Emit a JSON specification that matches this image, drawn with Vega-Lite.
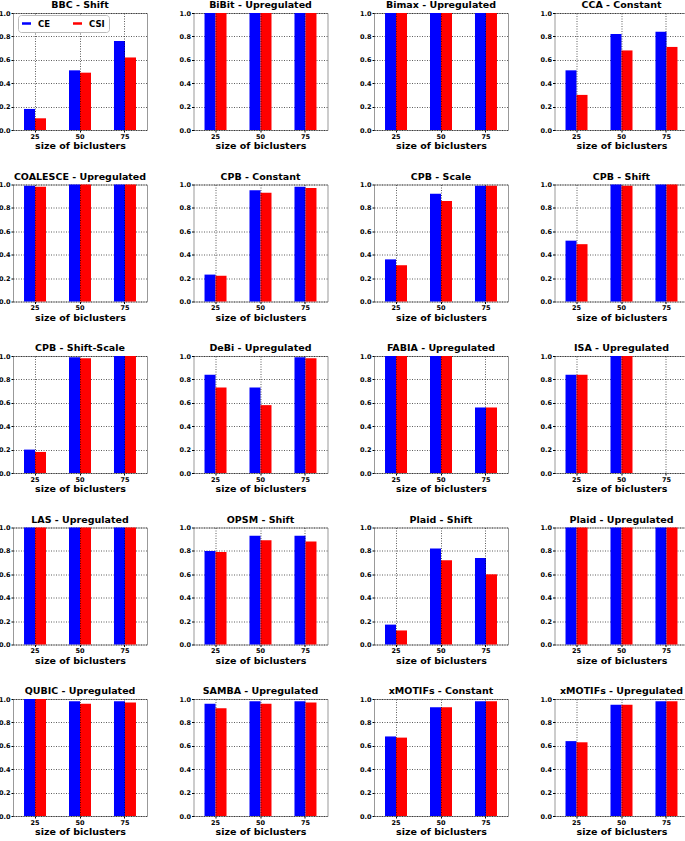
{
  "$schema": "https://vega.github.io/schema/vega-lite/v6.json",
  "padding": {"left": -3, "top": -1, "right": 0, "bottom": 0},
  "background": "white",
  "data": {
    "values": [
      {"method": "BBC - Shift", "size": 25, "CE": 0.18, "CSI": 0.10},
      {"method": "BBC - Shift", "size": 50, "CE": 0.51, "CSI": 0.49},
      {"method": "BBC - Shift", "size": 75, "CE": 0.76, "CSI": 0.62},
      {"method": "BiBit - Upregulated", "size": 25, "CE": 1.0, "CSI": 1.0},
      {"method": "BiBit - Upregulated", "size": 50, "CE": 1.0, "CSI": 1.0},
      {"method": "BiBit - Upregulated", "size": 75, "CE": 1.0, "CSI": 1.0},
      {"method": "Bimax - Upregulated", "size": 25, "CE": 1.0, "CSI": 1.0},
      {"method": "Bimax - Upregulated", "size": 50, "CE": 1.0, "CSI": 1.0},
      {"method": "Bimax - Upregulated", "size": 75, "CE": 1.0, "CSI": 1.0},
      {"method": "CCA - Constant", "size": 25, "CE": 0.51, "CSI": 0.30},
      {"method": "CCA - Constant", "size": 50, "CE": 0.82, "CSI": 0.68},
      {"method": "CCA - Constant", "size": 75, "CE": 0.84, "CSI": 0.71},
      {"method": "COALESCE - Upregulated", "size": 25, "CE": 0.99, "CSI": 0.98},
      {"method": "COALESCE - Upregulated", "size": 50, "CE": 1.0, "CSI": 1.0},
      {"method": "COALESCE - Upregulated", "size": 75, "CE": 1.0, "CSI": 1.0},
      {"method": "CPB - Constant", "size": 25, "CE": 0.23, "CSI": 0.22},
      {"method": "CPB - Constant", "size": 50, "CE": 0.95, "CSI": 0.93},
      {"method": "CPB - Constant", "size": 75, "CE": 0.98, "CSI": 0.97},
      {"method": "CPB - Scale", "size": 25, "CE": 0.36, "CSI": 0.31},
      {"method": "CPB - Scale", "size": 50, "CE": 0.92, "CSI": 0.86},
      {"method": "CPB - Scale", "size": 75, "CE": 0.99, "CSI": 0.99},
      {"method": "CPB - Shift", "size": 25, "CE": 0.52, "CSI": 0.49},
      {"method": "CPB - Shift", "size": 50, "CE": 1.0, "CSI": 0.99},
      {"method": "CPB - Shift", "size": 75, "CE": 1.0, "CSI": 1.0},
      {"method": "CPB - Shift-Scale", "size": 25, "CE": 0.20, "CSI": 0.18},
      {"method": "CPB - Shift-Scale", "size": 50, "CE": 0.99, "CSI": 0.98},
      {"method": "CPB - Shift-Scale", "size": 75, "CE": 1.0, "CSI": 1.0},
      {"method": "DeBi - Upregulated", "size": 25, "CE": 0.84, "CSI": 0.73},
      {"method": "DeBi - Upregulated", "size": 50, "CE": 0.73, "CSI": 0.58},
      {"method": "DeBi - Upregulated", "size": 75, "CE": 0.99, "CSI": 0.98},
      {"method": "FABIA - Upregulated", "size": 25, "CE": 1.0, "CSI": 1.0},
      {"method": "FABIA - Upregulated", "size": 50, "CE": 1.0, "CSI": 1.0},
      {"method": "FABIA - Upregulated", "size": 75, "CE": 0.56, "CSI": 0.56},
      {"method": "ISA - Upregulated", "size": 25, "CE": 0.84, "CSI": 0.84},
      {"method": "ISA - Upregulated", "size": 50, "CE": 1.0, "CSI": 1.0},
      {"method": "ISA - Upregulated", "size": 75, "CE": null, "CSI": null},
      {"method": "LAS - Upregulated", "size": 25, "CE": 1.0, "CSI": 1.0},
      {"method": "LAS - Upregulated", "size": 50, "CE": 1.0, "CSI": 1.0},
      {"method": "LAS - Upregulated", "size": 75, "CE": 1.0, "CSI": 1.0},
      {"method": "OPSM - Shift", "size": 25, "CE": 0.80, "CSI": 0.79},
      {"method": "OPSM - Shift", "size": 50, "CE": 0.93, "CSI": 0.89},
      {"method": "OPSM - Shift", "size": 75, "CE": 0.93, "CSI": 0.88},
      {"method": "Plaid - Shift", "size": 25, "CE": 0.17, "CSI": 0.12},
      {"method": "Plaid - Shift", "size": 50, "CE": 0.82, "CSI": 0.72},
      {"method": "Plaid - Shift", "size": 75, "CE": 0.74, "CSI": 0.60},
      {"method": "Plaid - Upregulated", "size": 25, "CE": 1.0, "CSI": 1.0},
      {"method": "Plaid - Upregulated", "size": 50, "CE": 1.0, "CSI": 1.0},
      {"method": "Plaid - Upregulated", "size": 75, "CE": 1.0, "CSI": 1.0},
      {"method": "QUBIC - Upregulated", "size": 25, "CE": 1.0, "CSI": 1.0},
      {"method": "QUBIC - Upregulated", "size": 50, "CE": 0.98, "CSI": 0.96},
      {"method": "QUBIC - Upregulated", "size": 75, "CE": 0.98, "CSI": 0.97},
      {"method": "SAMBA - Upregulated", "size": 25, "CE": 0.96, "CSI": 0.92},
      {"method": "SAMBA - Upregulated", "size": 50, "CE": 0.98, "CSI": 0.96},
      {"method": "SAMBA - Upregulated", "size": 75, "CE": 0.98, "CSI": 0.97},
      {"method": "xMOTIFs - Constant", "size": 25, "CE": 0.68, "CSI": 0.67},
      {"method": "xMOTIFs - Constant", "size": 50, "CE": 0.93, "CSI": 0.93},
      {"method": "xMOTIFs - Constant", "size": 75, "CE": 0.98, "CSI": 0.98},
      {"method": "xMOTIFs - Upregulated", "size": 25, "CE": 0.64, "CSI": 0.63},
      {"method": "xMOTIFs - Upregulated", "size": 50, "CE": 0.95, "CSI": 0.95},
      {"method": "xMOTIFs - Upregulated", "size": 75, "CE": 0.98, "CSI": 0.98}
    ]
  },
  "transform": [{"fold": ["CE", "CSI"], "as": ["measure", "value"]}],
  "facet": {
    "field": "method",
    "type": "nominal",
    "sort": ["BBC - Shift", "BiBit - Upregulated", "Bimax - Upregulated", "CCA - Constant", "COALESCE - Upregulated", "CPB - Constant", "CPB - Scale", "CPB - Shift", "CPB - Shift-Scale", "DeBi - Upregulated", "FABIA - Upregulated", "ISA - Upregulated", "LAS - Upregulated", "OPSM - Shift", "Plaid - Shift", "Plaid - Upregulated", "QUBIC - Upregulated", "SAMBA - Upregulated", "xMOTIFs - Constant", "xMOTIFs - Upregulated"],
    "header": {"title": null, "labelFont": "DejaVu Sans", "labelFontWeight": "bold", "labelFontSize": 9.5, "labelColor": "black", "labelPadding": 0.5}
  },
  "columns": 4,
  "spacing": {"column": 29.5, "row": 19.5},
  "resolve": {"axis": {"x": "independent", "y": "independent"}},
  "spec": {
    "width": 134,
    "height": 117,
    "mark": {"type": "bar"},
    "encoding": {
      "x": {
        "field": "size", "type": "ordinal",
        "scale": {"paddingInner": 0.511, "paddingOuter": 0.245},
        "axis": {"title": "size of biclusters", "labelAngle": 0, "grid": true, "bandPosition": 0.5, "zindex": 1}
      },
      "xOffset": {"field": "measure", "type": "nominal", "sort": ["CE", "CSI"], "scale": {"paddingInner": 0, "paddingOuter": 0}},
      "y": {
        "field": "value", "type": "quantitative",
        "scale": {"domain": [0, 1], "nice": false},
        "axis": {"title": null, "values": [0, 0.2, 0.4, 0.6, 0.8, 1.0], "format": ".1f", "grid": true}
      },
      "color": {
        "field": "measure", "type": "nominal",
        "scale": {"domain": ["CE", "CSI"], "range": ["#0000ff", "#ff0000"]},
        "legend": {
          "title": null, "orient": "none", "legendX": 5, "legendY": 2, "direction": "horizontal", "columns": 2,
          "symbolType": "M-1,-0.28H1V0.28H-1Z", "symbolSize": 81, "symbolStrokeWidth": 0,
          "labelFont": "DejaVu Sans", "labelFontWeight": "bold", "labelFontSize": 8.5, "labelColor": "black",
          "strokeColor": "#bbbbbb", "fillColor": "white", "cornerRadius": 3, "padding": 4, "columnPadding": 22, "labelOffset": 7
        }
      }
    }
  },
  "config": {
    "view": {"stroke": "#999999", "strokeWidth": 1},
    "axis": {
      "labelFont": "DejaVu Sans", "labelFontWeight": "bold", "labelFontSize": 6.5, "labelColor": "black",
      "labelPadding": 1, "tickSize": 2, "tickColor": "black", "domain": false,
      "gridColor": "black", "gridDash": [1, 1.5], "gridOpacity": 0.8, "gridWidth": 0.8,
      "titleFont": "DejaVu Sans", "titleFontWeight": "bold", "titleFontSize": 9.5, "titleColor": "black", "titlePadding": 1
    }
  }
}
